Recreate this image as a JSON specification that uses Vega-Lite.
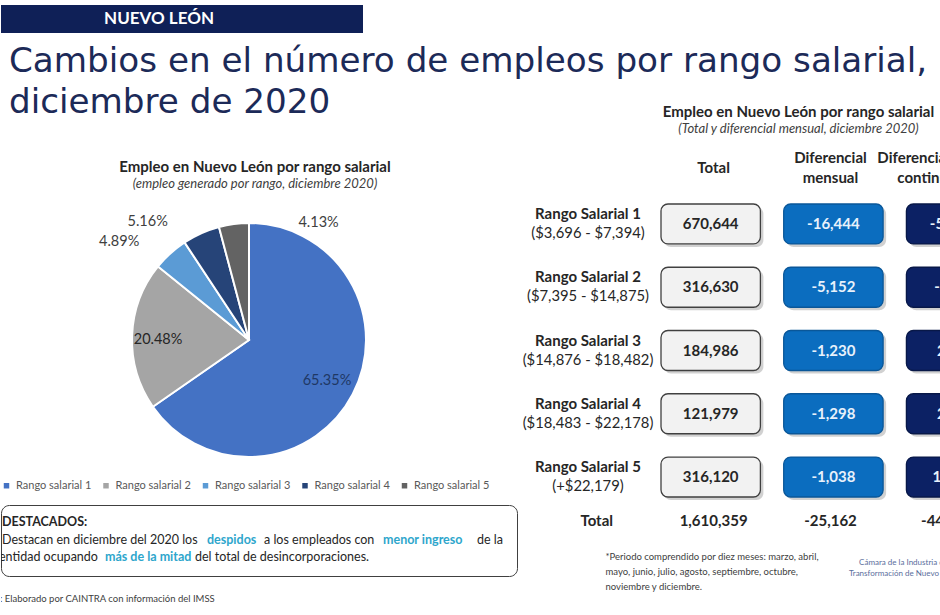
{
  "$schema": "https://vega.github.io/schema/vega-lite/v6.json",
  "padding": {"top": 5, "left": 0, "right": 0, "bottom": 0},
  "background": "white",
  "bounds": "flush",
  "spacing": 0,
  "resolve": {"scale": {"color": "independent"}, "legend": {"color": "independent"}},
  "config": {
    "view": {"stroke": null},
    "locale": {"number": {"decimal": ".", "thousands": ",", "grouping": [3], "currency": ["$", ""], "minus": "-"}},
    "text": {"font": "Lato"},
    "title": {"font": "Lato", "subtitleFont": "Lato"}
  },
  "datasets": {
    "pie": [
      {"rango": "Rango salarial 1", "porcentaje": 0.6535},
      {"rango": "Rango salarial 2", "porcentaje": 0.2048},
      {"rango": "Rango salarial 3", "porcentaje": 0.0489},
      {"rango": "Rango salarial 4", "porcentaje": 0.0516},
      {"rango": "Rango salarial 5", "porcentaje": 0.0413}
    ],
    "tabla": [
      {"rango": "Rango Salarial 1", "intervalo": "($3,696 - $7,394)", "total": 670644, "mensual": -16444, "continuo": -57926},
      {"rango": "Rango Salarial 2", "intervalo": "($7,395 - $14,875)", "total": 316630, "mensual": -5152, "continuo": -5538},
      {"rango": "Rango Salarial 3", "intervalo": "($14,876 - $18,482)", "total": 184986, "mensual": -1230, "continuo": 2412},
      {"rango": "Rango Salarial 4", "intervalo": "($18,483 - $22,178)", "total": 121979, "mensual": -1298, "continuo": 2287},
      {"rango": "Rango Salarial 5", "intervalo": "(+$22,179)", "total": 316120, "mensual": -1038, "continuo": 13945}
    ],
    "encabezados": [
      {"columna": "total", "linea1": "Total", "linea2": ""},
      {"columna": "mensual", "linea1": "Diferencial", "linea2": "mensual"},
      {"columna": "continuo", "linea1": "Diferencial", "linea2": "continuo*"}
    ]
  },
  "vconcat": [
    {
      "width": 362,
      "height": 28,
      "view": {"fill": "#0f2057", "stroke": null},
      "data": {"values": [{}]},
      "mark": {"type": "text", "text": "NUEVO LEÓN", "font": "Lato", "fontSize": 17, "fontWeight": "bold", "color": "white", "dx": -23, "baseline": "middle"},
      "encoding": {},
      "title": {
        "text": ["Cambios en el número de empleos por rango salarial,", "diciembre de 2020"],
        "orient": "bottom",
        "anchor": "start",
        "frame": "group",
        "font": "DejaVu Sans",
        "fontSize": 34.2,
        "fontWeight": "normal",
        "color": "#1c2a58",
        "lineHeight": 41,
        "offset": 12,
        "dx": 8
      }
    },
    {
      "bounds": "full",
      "spacing": 4,
      "resolve": {"scale": {"color": "independent"}, "legend": {"color": "independent"}},
      "hconcat": [
        {
          "bounds": "flush",
          "spacing": 0,
          "resolve": {"scale": {"color": "independent"}, "legend": {"color": "independent"}},
          "vconcat": [
            {"width": 1, "height": 190, "data": {"values": []}, "mark": "point", "encoding": {}},
            {
              "width": 496,
              "height": 234,
              "data": {"name": "pie"},
              "title": {
                "text": "Empleo en Nuevo León por rango salarial",
                "subtitle": "(empleo generado por rango, diciembre 2020)",
                "frame": "group",
                "fontSize": 15,
                "fontWeight": "bold",
                "color": "#262626",
                "subtitleFontSize": 13,
                "subtitleFontStyle": "italic",
                "subtitleColor": "#404040",
                "subtitlePadding": 3,
                "anchor": "middle",
                "offset": 5,
                "dx": 6
              },
              "encoding": {
                "theta": {"field": "porcentaje", "type": "quantitative", "stack": true},
                "order": {"field": "rango", "type": "nominal"}
              },
              "layer": [
                {
                  "mark": {"type": "arc", "outerRadius": 117, "stroke": "white", "strokeWidth": 2},
                  "encoding": {
                    "color": {
                      "field": "rango",
                      "type": "nominal",
                      "scale": {
                        "domain": ["Rango salarial 1", "Rango salarial 2", "Rango salarial 3", "Rango salarial 4", "Rango salarial 5"],
                        "range": ["#4472c4", "#a5a5a5", "#5b9bd5", "#264478", "#636363"]
                      },
                      "legend": {
                        "orient": "bottom",
                        "direction": "horizontal",
                        "title": null,
                        "symbolType": "square",
                        "symbolSize": 30,
                        "symbolStrokeWidth": 0,
                        "labelFont": "Lato",
                        "labelFontSize": 11,
                        "labelColor": "#595959",
                        "columnPadding": 8.5,
                        "offset": 23
                      }
                    }
                  }
                },
                {
                  "mark": {"type": "text", "radius": 88, "fontSize": 14.5, "fill": "#1f3864"},
                  "encoding": {
                    "text": {"condition": {"test": "datum.rango === 'Rango salarial 1'", "field": "porcentaje", "type": "quantitative", "format": ".2%"}, "value": ""}
                  }
                },
                {
                  "mark": {"type": "text", "radius": 91, "fontSize": 14.5, "fill": "#262626", "dy": 3},
                  "encoding": {
                    "text": {"condition": {"test": "datum.rango === 'Rango salarial 2'", "field": "porcentaje", "type": "quantitative", "format": ".2%"}, "value": ""}
                  }
                },
                {
                  "mark": {"type": "text", "radius": 150, "dx": -29, "dy": 13, "fontSize": 14.5, "fill": "#404040"},
                  "encoding": {
                    "text": {"condition": {"test": "datum.rango === 'Rango salarial 3'", "field": "porcentaje", "type": "quantitative", "format": ".2%"}, "value": ""}
                  }
                },
                {
                  "mark": {"type": "text", "radius": 150, "dx": -40, "dy": 19, "fontSize": 14.5, "fill": "#404040"},
                  "encoding": {
                    "text": {"condition": {"test": "datum.rango === 'Rango salarial 4'", "field": "porcentaje", "type": "quantitative", "format": ".2%"}, "value": ""}
                  }
                },
                {
                  "mark": {"type": "text", "radius": 150, "dx": 89, "dy": 32, "fontSize": 14.5, "fill": "#404040"},
                  "encoding": {
                    "text": {"condition": {"test": "datum.rango === 'Rango salarial 5'", "field": "porcentaje", "type": "quantitative", "format": ".2%"}, "value": ""}
                  }
                }
              ]
            },
            {"width": 1, "height": 48, "data": {"values": []}, "mark": "point", "encoding": {}},
            {
              "width": 516,
              "height": 71,
              "view": {"stroke": "#404040", "strokeWidth": 1, "cornerRadius": 8, "fill": "white"},
              "data": {"values": [{}]},
              "layer": [
                {"mark": {"type": "text", "text": "DESTACADOS:", "align": "left", "baseline": "alphabetic", "fontSize": 12.5, "fontWeight": "bold", "color": "#262626", "dx": -257, "dy": -14.5, "clip": true}, "encoding": {}},
                {"mark": {"type": "text", "text": "Destacan en diciembre del 2020 los", "align": "left", "baseline": "alphabetic", "fontSize": 12.5, "color": "#262626", "dx": -257, "dy": 3.5, "clip": true}, "encoding": {}},
                {"mark": {"type": "text", "text": "despidos", "align": "left", "baseline": "alphabetic", "fontSize": 12.5, "fontWeight": "bold", "color": "#2ea6cc", "dx": -52, "dy": 3.5, "clip": true}, "encoding": {}},
                {"mark": {"type": "text", "text": "a los empleados con", "align": "left", "baseline": "alphabetic", "fontSize": 12.5, "color": "#262626", "dx": 5, "dy": 3.5, "clip": true}, "encoding": {}},
                {"mark": {"type": "text", "text": "menor ingreso", "align": "left", "baseline": "alphabetic", "fontSize": 12.5, "fontWeight": "bold", "color": "#2ea6cc", "dx": 124, "dy": 3.5, "clip": true}, "encoding": {}},
                {"mark": {"type": "text", "text": "de la", "align": "left", "baseline": "alphabetic", "fontSize": 12.5, "color": "#262626", "dx": 218, "dy": 3.5, "clip": true}, "encoding": {}},
                {"mark": {"type": "text", "text": "entidad ocupando", "align": "left", "baseline": "alphabetic", "fontSize": 12.5, "color": "#262626", "dx": -260, "dy": 20.5, "clip": true}, "encoding": {}},
                {"mark": {"type": "text", "text": "más de la mitad", "align": "left", "baseline": "alphabetic", "fontSize": 12.5, "fontWeight": "bold", "color": "#2ea6cc", "dx": -154, "dy": 20.5, "clip": true}, "encoding": {}},
                {"mark": {"type": "text", "text": "del total de desincorporaciones.", "align": "left", "baseline": "alphabetic", "fontSize": 12.5, "color": "#262626", "dx": -64, "dy": 20.5, "clip": true}, "encoding": {}}
              ]
            },
            {
              "width": 300,
              "height": 36,
              "data": {"values": [{}]},
              "mark": {"type": "text", "text": "Fuente: Elaborado por CAINTRA con información del IMSS", "align": "left", "baseline": "alphabetic", "fontSize": 9.5, "color": "#404040", "dx": -180, "dy": 8, "clip": true},
              "encoding": {}
            }
          ]
        },
        {
          "bounds": "flush",
          "spacing": 0,
          "resolve": {"scale": {"color": "independent"}, "legend": {"color": "independent"}},
          "vconcat": [
            {"width": 1, "height": 108, "data": {"values": []}, "mark": "point", "encoding": {}},
            {
              "width": 419,
              "height": 54,
              "data": {"name": "encabezados"},
              "title": {
                "text": "Empleo en Nuevo León por rango salarial",
                "subtitle": "(Total y diferencial mensual, diciembre 2020)",
                "frame": "group",
                "fontSize": 15,
                "fontWeight": "bold",
                "color": "#262626",
                "subtitleFontSize": 13,
                "subtitleFontStyle": "italic",
                "subtitleColor": "#404040",
                "subtitlePadding": 3,
                "anchor": "middle",
                "offset": 5,
                "dx": 60
              },
              "layer": [
                {
                  "transform": [{"filter": "datum.columna === 'total'"}],
                  "mark": {"type": "text", "fontSize": 15, "fontWeight": "bold", "color": "#262626", "baseline": "middle", "clip": true},
                  "encoding": {
                    "x": {"field": "columna", "type": "nominal", "scale": {"domain": ["etiqueta", "total", "mensual", "continuo"], "range": [9.3, 476.8], "paddingInner": 0.19, "paddingOuter": 0}, "axis": null},
                    "text": {"field": "linea1", "type": "nominal"}
                  }
                },
                {
                  "transform": [{"filter": "datum.columna === 'mensual'"}],
                  "mark": {"type": "text", "fontSize": 15, "fontWeight": "bold", "color": "#262626", "baseline": "middle", "dy": -10, "clip": true},
                  "encoding": {
                    "x": {"field": "columna", "type": "nominal", "axis": null},
                    "text": {"field": "linea1", "type": "nominal"}
                  }
                },
                {
                  "transform": [{"filter": "datum.columna === 'mensual'"}],
                  "mark": {"type": "text", "fontSize": 15, "fontWeight": "bold", "color": "#262626", "baseline": "middle", "dy": 10, "clip": true},
                  "encoding": {
                    "x": {"field": "columna", "type": "nominal", "axis": null},
                    "text": {"field": "linea2", "type": "nominal"}
                  }
                },
                {
                  "transform": [{"filter": "datum.columna === 'continuo'"}],
                  "mark": {"type": "text", "fontSize": 15, "fontWeight": "bold", "color": "#262626", "baseline": "middle", "align": "left", "dx": -70, "dy": -10, "clip": true},
                  "encoding": {
                    "x": {"field": "columna", "type": "nominal", "axis": null},
                    "text": {"field": "linea1", "type": "nominal"}
                  }
                },
                {
                  "transform": [{"filter": "datum.columna === 'continuo'"}],
                  "mark": {"type": "text", "fontSize": 15, "fontWeight": "bold", "color": "#262626", "baseline": "middle", "align": "left", "dx": -50, "dy": 10, "clip": true},
                  "encoding": {
                    "x": {"field": "columna", "type": "nominal", "axis": null},
                    "text": {"field": "linea2", "type": "nominal"}
                  }
                }
              ]
            },
            {
              "width": 419,
              "height": 311,
              "data": {"name": "tabla"},
              "layer": [
                {
                  "transform": [{"fold": ["total", "mensual", "continuo"], "as": ["columna", "valor"]}],
                  "mark": {"type": "rect", "cornerRadius": 7, "fill": "#9a9a9a", "opacity": 0.45, "xOffset": 3, "yOffset": 3, "clip": true},
                  "encoding": {
                    "x": {"field": "columna", "type": "nominal", "scale": {"domain": ["etiqueta", "total", "mensual", "continuo"], "range": [9.3, 476.8], "paddingInner": 0.19, "paddingOuter": 0}, "axis": null},
                    "y": {"field": "rango", "type": "nominal", "scale": {"domain": ["Rango Salarial 1", "Rango Salarial 2", "Rango Salarial 3", "Rango Salarial 4", "Rango Salarial 5"], "paddingInner": 0.368, "paddingOuter": 0.142}, "axis": null}
                  }
                },
                {
                  "transform": [{"fold": ["total", "mensual", "continuo"], "as": ["columna", "valor"]}],
                  "mark": {"type": "rect", "cornerRadius": 7, "strokeWidth": 1.3, "clip": true},
                  "encoding": {
                    "x": {"field": "columna", "type": "nominal", "axis": null},
                    "y": {"field": "rango", "type": "nominal", "axis": null},
                    "fill": {"field": "columna", "type": "nominal", "scale": {"domain": ["total", "mensual", "continuo"], "range": ["#f2f2f2", "#0b6dbf", "#0c2164"]}, "legend": null},
                    "stroke": {"field": "columna", "type": "nominal", "scale": {"domain": ["total", "mensual", "continuo"], "range": ["#404040", "#0a5799", "#081848"]}, "legend": null}
                  }
                },
                {
                  "transform": [{"fold": ["total", "mensual", "continuo"], "as": ["columna", "valor"]}],
                  "mark": {"type": "text", "fontSize": 15, "fontWeight": "bold", "baseline": "middle", "clip": true},
                  "encoding": {
                    "x": {"field": "columna", "type": "nominal", "axis": null},
                    "y": {"field": "rango", "type": "nominal", "axis": null},
                    "text": {"field": "valor", "type": "quantitative", "format": ","},
                    "color": {"field": "columna", "type": "nominal", "scale": {"domain": ["total", "mensual", "continuo"], "range": ["#262626", "#e8f1fb", "#e8f1fb"]}, "legend": null}
                  }
                },
                {
                  "mark": {"type": "text", "fontSize": 15, "fontWeight": "bold", "color": "#262626", "baseline": "middle", "dy": -10},
                  "encoding": {
                    "x": {"datum": "etiqueta", "type": "nominal", "axis": null},
                    "y": {"field": "rango", "type": "nominal", "axis": null},
                    "text": {"field": "rango", "type": "nominal"}
                  }
                },
                {
                  "mark": {"type": "text", "fontSize": 14.8, "color": "#262626", "baseline": "middle", "dy": 10},
                  "encoding": {
                    "x": {"datum": "etiqueta", "type": "nominal", "axis": null},
                    "y": {"field": "rango", "type": "nominal", "axis": null},
                    "text": {"field": "intervalo", "type": "nominal"}
                  }
                }
              ]
            },
            {
              "width": 419,
              "height": 30,
              "layer": [
                {
                  "data": {"name": "tabla"},
                  "transform": [
                    {"fold": ["total", "mensual", "continuo"], "as": ["columna", "valor"]},
                    {"aggregate": [{"op": "sum", "field": "valor", "as": "valor"}], "groupby": ["columna"]}
                  ],
                  "mark": {"type": "text", "fontSize": 15, "fontWeight": "bold", "color": "#262626", "baseline": "middle", "clip": true},
                  "encoding": {
                    "x": {"field": "columna", "type": "nominal", "scale": {"domain": ["etiqueta", "total", "mensual", "continuo"], "range": [9.3, 476.8], "paddingInner": 0.19, "paddingOuter": 0}, "axis": null},
                    "text": {"field": "valor", "type": "quantitative", "format": ","}
                  }
                },
                {
                  "data": {"values": [{"etiqueta": "Total"}]},
                  "mark": {"type": "text", "fontSize": 15, "fontWeight": "bold", "color": "#262626", "baseline": "middle"},
                  "encoding": {
                    "x": {"datum": "etiqueta", "type": "nominal", "axis": null},
                    "text": {"field": "etiqueta", "type": "nominal"}
                  }
                }
              ]
            },
            {
              "width": 419,
              "height": 64,
              "data": {"values": [{}]},
              "layer": [
                {"mark": {"type": "text", "text": "*Periodo comprendido por diez meses: marzo, abril,\nmayo, junio, julio, agosto, septiembre, octubre,\nnoviembre y diciembre.", "lineBreak": "\n", "lineHeight": 15, "align": "left", "baseline": "middle", "fontSize": 9.5, "color": "#404040", "dx": -133, "dy": -11, "clip": true}, "encoding": {}},
                {"mark": {"type": "text", "text": "Cámara de la Industria de\nTransformación de Nuevo León", "lineBreak": "\n", "lineHeight": 11, "align": "center", "baseline": "middle", "fontSize": 8, "color": "#5a6e9c", "dx": 165, "dy": -5, "clip": true}, "encoding": {}}
              ]
            }
          ]
        }
      ]
    }
  ]
}
